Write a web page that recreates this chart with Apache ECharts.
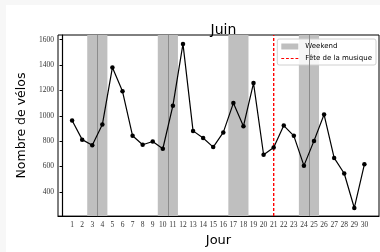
<!DOCTYPE html>
<html>
<head>
<meta charset="utf-8">
<script src="https://cdn.jsdelivr.net/npm/echarts@6/dist/echarts.min.js"></script>
<style>
  html, body { margin: 0; padding: 0; background: #f7f7f7; }
  #chart { position: absolute; left: 6px; top: 5px; width: 374px; height: 247px; background: #fff; }
</style>
</head>
<body>
<div id="chart"></div>
<script>
// velos par jour, juin
var days = [1,2,3,4,5,6,7,8,9,10,11,12,13,14,15,16,17,18,19,20,21,22,23,24,25,26,27,28,29,30]
var velos = [963,812,767,931,1381,1193,842,772,797,740,1080,1567,881,825,753,869,1100,918,1258,693,750,923,842,607,802,1010,668,545,273,617]
var weekends = [[3,4],[10,11],[17,18],[24,25]]
var weekendSeams = [3.5, 10.5, 24.5]
var feteDay = 21
var yTicks = [400,600,800,1000,1200,1400,1600]
var yMin = 209
var yMax = 1637

var chart = echarts.init(document.getElementById('chart'))

var areas = weekends.map(function(w) {
  return [{ xAxis: w[0] - 0.5 }, { xAxis: w[1] + 0.5 }]
})

var dashIcon = 'path://M0,0h3v1h-3z M5,0h3v1h-3z M10,0h3v1h-3z M15,0h3v1h-3z'
var red = '#ff0000'

var option = {
  animation: false,
  title: {
    text: 'Juin',
    left: 212.5, top: 13, textAlign: 'center',
    textStyle: { fontFamily: 'DejaVu Sans', fontSize: 14, fontWeight: 'normal', color: '#000' }
  },
  legend: {
    orient: 'vertical',
    right: 4, top: 34,
    backgroundColor: 'rgba(255,255,255,0.85)',
    borderColor: '#d0d0d0', borderWidth: 1, borderRadius: 2,
    padding: [4, 4, 3, 4],
    itemWidth: 17, itemHeight: 6, itemGap: 5,
    textStyle: { fontFamily: 'DejaVu Sans', fontSize: 7, color: '#000', padding: [0, 0, 0, 2] },
    data: [
      { name: 'Weekend', icon: 'rect', itemStyle: { color: '#bfbfbf' } },
      { name: 'Fête de la musique', icon: dashIcon, itemStyle: { color: red } }
    ]
  },
  grid: {
    left: 52, top: 30, right: 1, bottom: 25,
    show: true, borderColor: '#000', borderWidth: 1
  },
  xAxis: {
    type: 'value',
    min: -0.4, max: 31.45,
    name: 'Jour', nameLocation: 'middle', nameGap: 15,
    nameTextStyle: { fontFamily: 'DejaVu Sans', fontSize: 13, color: '#000' },
    axisLine: { show: true, onZero: false, lineStyle: { color: '#000', width: 1.2 } },
    axisTick: { show: false },
    splitLine: { show: false },
    axisLabel: {
      customValues: days,
      margin: 5,
      fontFamily: 'Liberation Serif', fontSize: 7.5, color: '#333'
    }
  },
  yAxis: {
    type: 'value',
    min: yMin, max: yMax,
    name: 'Nombre de vélos', nameLocation: 'middle', nameGap: 30,
    nameTextStyle: { fontFamily: 'DejaVu Sans', fontSize: 12.5, color: '#000' },
    axisLine: { show: true, lineStyle: { color: '#000', width: 1.2 } },
    axisTick: { show: true, length: 2.5, customValues: yTicks, lineStyle: { color: '#000' } },
    splitLine: { show: false },
    axisLabel: {
      customValues: yTicks,
      formatter: function(v) { return String(v) },
      margin: 4,
      fontFamily: 'Liberation Serif', fontSize: 7.5, color: '#333'
    }
  },
  series: [
    {
      name: 'Weekend',
      type: 'line',
      data: [],
      z: 1,
      itemStyle: { color: '#bfbfbf' },
      markArea: {
        silent: true,
        itemStyle: { color: '#bfbfbf' },
        data: areas
      },
      markLine: {
        silent: true, symbol: 'none',
        label: { show: false },
        lineStyle: { color: '#8c8c8c', type: 'solid', width: 1 },
        data: weekendSeams.map(function(x) { return { xAxis: x } })
      }
    },
    {
      name: 'Fête de la musique',
      type: 'line',
      z: 3,
      silent: true,
      data: [[feteDay, yMin], [feteDay, yMax]],
      symbol: 'none',
      itemStyle: { color: red },
      lineStyle: { color: red, type: [3, 2], width: 1.4 }
    },
    {
      name: 'velos',
      type: 'line',
      z: 5,
      data: days.map(function(d, i) { return [d, velos[i]] }),
      symbol: 'circle', symbolSize: 4.5,
      itemStyle: { color: '#000' },
      lineStyle: { color: '#000', width: 1.2 }
    }
  ]
}
chart.setOption(option)
</script>
</body>
</html>
